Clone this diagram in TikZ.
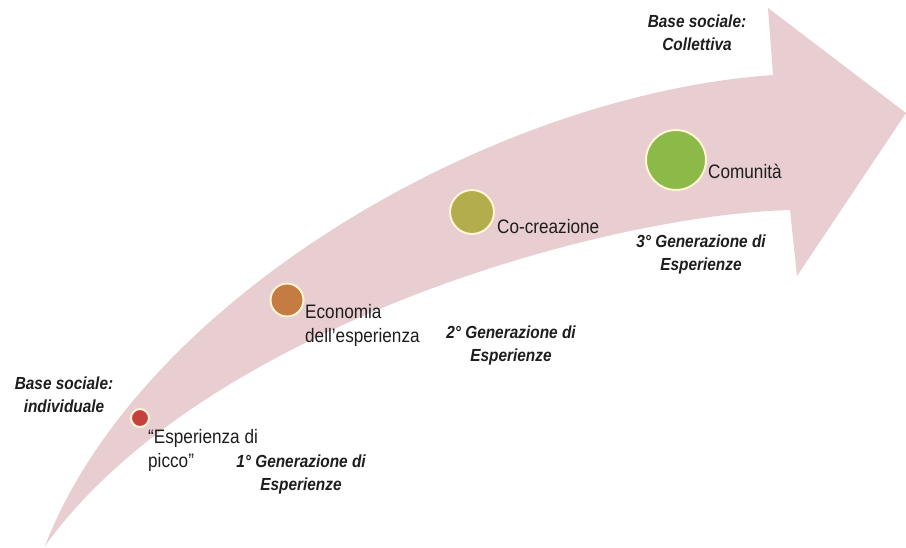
\documentclass[tikz,border=0pt]{standalone}
\usepackage{fontspec}
\setmainfont[FakeStretch=0.88]{Liberation Sans}
\definecolor{arrowpink}{RGB}{232,205,209}
\definecolor{dotred}{RGB}{197,64,62}
\definecolor{dotorange}{RGB}{196,124,67}
\definecolor{dotolive}{RGB}{180,173,75}
\definecolor{dotgreen}{RGB}{140,186,72}
\definecolor{rimcream}{RGB}{255,244,214}
\definecolor{inkgray}{RGB}{30,30,30}
\begin{document}
\begin{tikzpicture}[x=1pt,y=-1pt,
  dot/.style={circle,draw=rimcream,line width=2pt,inner sep=0pt},
  stage/.style={inner sep=0pt,anchor=north west,align=left,text=inkgray,
    font=\fontsize{19.5}{24}\selectfont},
  generation/.style={inner sep=0pt,anchor=north,align=center,text=inkgray,
    font=\fontsize{17.5}{23}\selectfont\bfseries\itshape},
]
% canvas
\path[fill=white] (0,0) rectangle (906,547);
\useasboundingbox (0,0) rectangle (906,547);

% curved arrow: shaft edges and head
\coordinate (tail) at (45,546);
\coordinate (topjoin) at (773,75);
\coordinate (topbarb) at (768,8);
\coordinate (tip) at (906,113);
\coordinate (botbarb) at (797,276);
\coordinate (botjoin) at (790,210);
\fill[arrowpink] (tail)
  .. controls (140,300) and (490,95) .. (topjoin)
  -- (topbarb) -- (tip) -- (botbarb) -- (botjoin)
  .. controls (600,215) and (200,330) .. (tail) -- cycle;

% stage markers
\node[dot,fill=dotred,minimum size=18pt] (d1) at (140,418) {};
\node[dot,fill=dotorange,minimum size=33pt] (d2) at (287,300) {};
\node[dot,fill=dotolive,minimum size=44pt] (d3) at (472,212) {};
\node[dot,fill=dotgreen,minimum size=60pt] (d4) at (676,160) {};

% stage labels
\node[stage] (l1) at (148,429) {“Esperienza di\\picco”};
\node[stage] (l2) at (305,304) {Economia\\dell’esperienza};
\node[stage] (l3) at (497,219) {Co-creazione};
\node[stage] (l4) at (708,164) {Comunità};

% generation labels
\node[generation] (g1) at (301,455) {1° Generazione di\\Esperienze};
\node[generation] (g2) at (511,326) {2° Generazione di\\Esperienze};
\node[generation] (g3) at (701,235) {3° Generazione di\\Esperienze};

% social base labels
\node[generation] (b1) at (64,377) {Base sociale:\\individuale};
\node[generation] (b2) at (697,15) {Base sociale:\\Collettiva};
\end{tikzpicture}
\end{document}
